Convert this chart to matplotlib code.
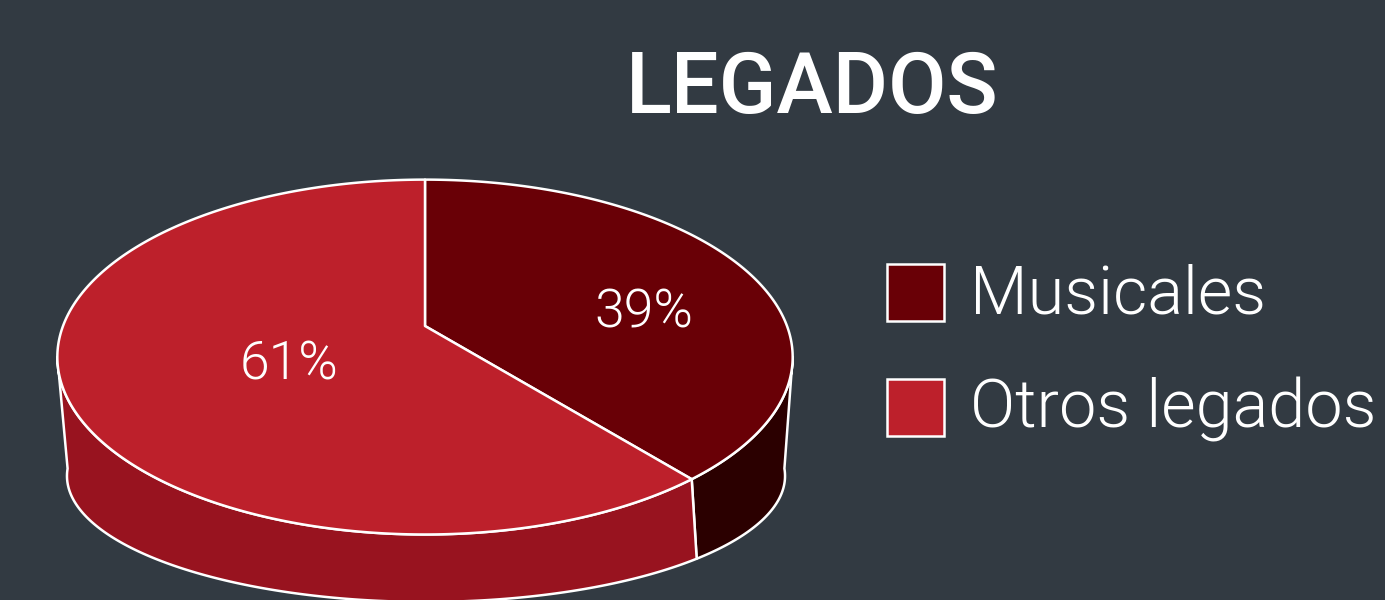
import numpy as np
import matplotlib.pyplot as plt

# data
labels = ["Musicales", "Otros legados"]
values = [39, 61]
top_colors = ["#690006", "#bd202b"]
side_colors = ["#2b0000", "#98131f"]

bg = "#323a42"
font = "Roboto"

fig = plt.figure(figsize=(13.85, 6), dpi=100, facecolor=bg)
ax = fig.add_axes([0, 0, 1, 1])
ax.set_facecolor(bg)
ax.set_xlim(0, 1385)
ax.set_ylim(600, 0)
ax.axis("off")

# perspective of the top and bottom discs (pixel space)
TOP = dict(uc=425, vc=326, k=0.175, A=362, B=172)
BOT = dict(uc=426, vc=447, k=0.23, A=349.4, B=119.3)


def proj(p, t, r=1.0):
    x = r * np.cos(t)
    y = r * np.sin(t)
    w = 1 + p["k"] * y
    return p["uc"] + p["A"] * x / w, p["vc"] - p["B"] * y / w


# wedge angles: start at 12 o'clock, clockwise
fracs = np.array(values, float) / sum(values)
start = 90.0
wedges = []
for f in fracs:
    end = start - 360 * f
    wedges.append((end, start))
    start = end

front = (-170.0, -10.0)  # visible part of the side wall
edge = dict(edgecolor="white", linewidth=1.8, joinstyle="round")

# side walls
for (lo, hi), col in zip(wedges, side_colors):
    for shift in (-360, 0, 360):
        a = max(lo + shift, front[0])
        b = min(hi + shift, front[1])
        if b <= a:
            continue
        t = np.radians(np.linspace(a, b, 200))
        tu, tv = proj(TOP, t)
        bu, bv = proj(BOT, t)
        xs = np.concatenate([tu, bu[::-1]])
        ys = np.concatenate([tv, bv[::-1]])
        ax.fill(xs, ys, facecolor=col, **edge)

# top faces
for (lo, hi), col in zip(wedges, top_colors):
    t = np.radians(np.linspace(lo, hi, 300))
    u, v = proj(TOP, t)
    xs = np.concatenate([[TOP["uc"]], u])
    ys = np.concatenate([[TOP["vc"]], v])
    ax.fill(xs, ys, facecolor=col, **edge)

# percentage labels
label_pos = [(644, 327), (289, 380)]
for val, (x, y) in zip(values, label_pos):
    ax.text(x, y, f"{val}%", color="white", fontsize=38.5, family=font,
            fontweight=300, ha="center", va="baseline")

# title
ax.text(812, 113, "LEGADOS", color="white", fontsize=61, family=font,
        fontweight="medium", ha="center", va="baseline")

# legend
for i, (lab, col) in enumerate(zip(labels, top_colors)):
    y0 = 264 + i * 115
    ax.add_patch(plt.Rectangle((887, y0), 57, 57, facecolor=col,
                               edgecolor="white", linewidth=1.8))
    ax.text(970, y0 + 49, lab, color="white", fontsize=48, family=font,
            fontweight=300, ha="left", va="baseline")

fig.savefig("out.png", dpi=100, facecolor=bg)
